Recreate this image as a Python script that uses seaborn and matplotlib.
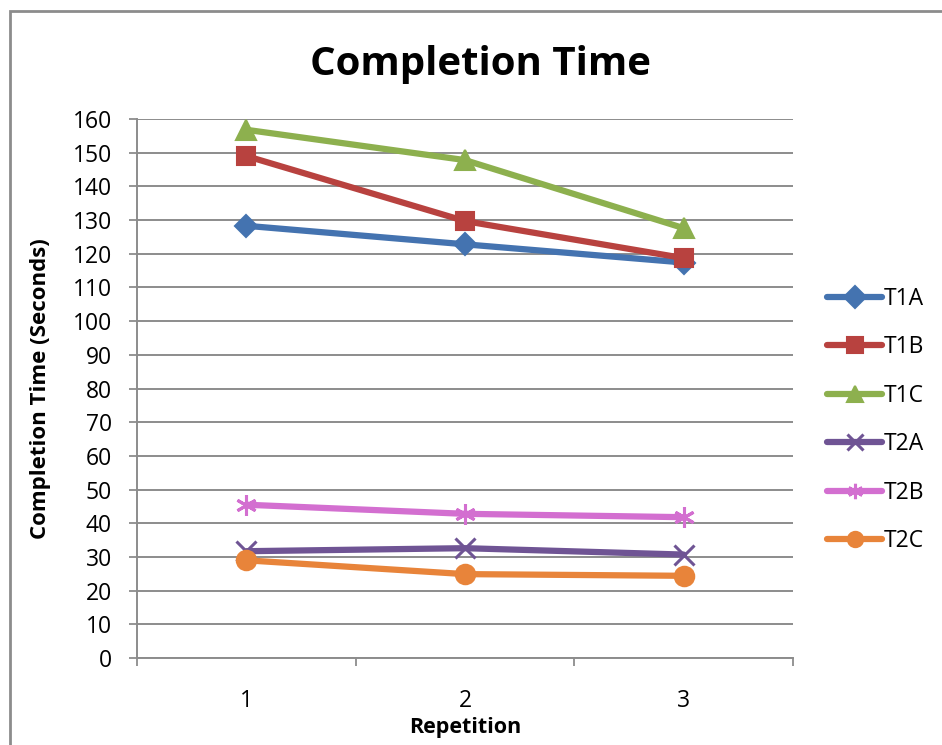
import matplotlib
matplotlib.use("Agg")
import matplotlib.pyplot as plt
import seaborn as sns
import pandas as pd
from matplotlib.patches import Rectangle

repetitions = [1, 2, 3]
t1a = [128.3, 122.8, 117.4]
t1b = [149.0, 129.7, 118.7]
t1c = [156.8, 147.8, 127.6]
t2a = [31.7, 32.6, 30.7]
t2b = [45.5, 42.8, 41.8]
t2c = [29.0, 24.9, 24.4]
series_names = ["T1A", "T1B", "T1C", "T2A", "T2B", "T2C"]
y_ticks = list(range(0, 161, 10))

sns.set_theme(style="white")
plt.rcParams["font.family"] = ["Open Sans", "DejaVu Sans"]
plt.rcParams["text.color"] = "black"
plt.rcParams["axes.labelcolor"] = "black"
plt.rcParams["xtick.labelcolor"] = "black"
plt.rcParams["ytick.labelcolor"] = "black"

df = pd.DataFrame({
    "Repetition": repetitions * 6,
    "Time": t1a + t1b + t1c + t2a + t2b + t2c,
    "Series": [s for s in series_names for _ in repetitions],
})

colors = {"T1A": "#4473B0", "T1B": "#B8423F", "T1C": "#8DB04E",
          "T2A": "#6F5494", "T2B": "#D36FD0", "T2C": "#E8843A"}
markers = {"T1A": "D", "T1B": "s", "T1C": "^", "T2A": "x",
           "T2B": (6, 2, 0), "T2C": "o"}
msizes = {"T1A": 11, "T1B": 13, "T1C": 14, "T2A": 15, "T2B": 15, "T2C": 14}

fig = plt.figure(figsize=(9.42, 7.45), dpi=100)
ax = fig.add_axes([137/942, 1 - 658/745, (793-137)/942, (658-119)/745])

for s in series_names:
    sub = df[df["Series"] == s]
    filled = markers[s] not in ("x", (6, 2, 0))
    kw = dict(markeredgecolor=colors[s], markeredgewidth=1.5 if filled else 2.2)
    if filled:
        kw["markerfacecolor"] = colors[s]
    sns.lineplot(data=sub, x="Repetition", y="Time", ax=ax, color=colors[s],
                 marker=markers[s], markersize=msizes[s], linewidth=4.5,
                 label=s, **kw)

ax.set_xlim(0.5, 3.5)
ax.set_ylim(0, 160)
ax.set_yticks(y_ticks)
ax.set_xticks(repetitions)
ax.set_xticks([0.5, 1.5, 2.5, 3.5], minor=True)
ax.tick_params(axis="x", which="major", length=0, pad=22, labelsize=16.5)
ax.tick_params(axis="x", which="minor", length=6, width=1.3, color="#8c8c8c",
               direction="out", bottom=True)
ax.tick_params(axis="y", length=6, width=1.3, color="#8c8c8c", direction="out",
               labelsize=16.5, pad=12, left=True)
ax.yaxis.grid(True, color="#8c8c8c", linewidth=1.4)
ax.xaxis.grid(False)
ax.set_axisbelow(True)
for side in ("top", "right"):
    ax.spines[side].set_visible(False)
for side in ("left", "bottom"):
    ax.spines[side].set_color("#8c8c8c")
    ax.spines[side].set_linewidth(1.4)

ax.set_xlabel("Repetition", fontsize=15.5, fontweight="bold", labelpad=3)
ax.set_ylabel("Completion Time (Seconds)", fontsize=16, fontweight="bold", labelpad=16)
fig.text(481/942, 1 - 64/745, "Completion Time", ha="center", va="center",
         fontsize=29, fontweight="bold")

leg = ax.legend(loc="center left", bbox_to_anchor=(818/942, 1 - 420/745),
                bbox_transform=fig.transFigure, frameon=False, fontsize=16.5,
                handlelength=2.4, handletextpad=0.05, labelspacing=1.07,
                borderaxespad=0)
for h in leg.legend_handles:
    h.set_markersize(11)

fig.patches.append(Rectangle((10/942, -0.05), 1.0, 1 - 11/745 + 0.05,
                             transform=fig.transFigure, fill=False,
                             edgecolor="#8c8c8c", linewidth=2))

fig.savefig("out.png", dpi=100)
